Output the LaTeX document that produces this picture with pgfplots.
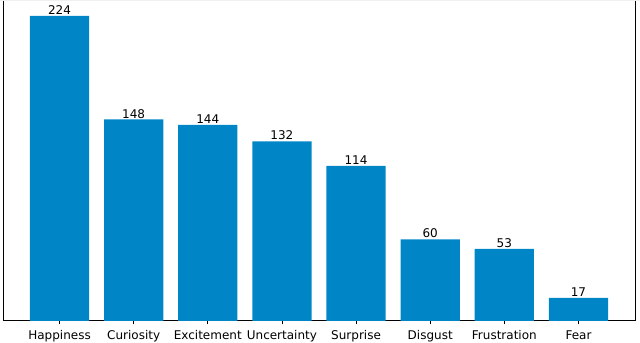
\documentclass[border=0pt]{standalone}
\usepackage{pgfplots}
\pgfplotsset{compat=1.18}
\usepackage{fontspec}
\setmainfont{DejaVu Sans}
\definecolor{barblue}{RGB}{0,134,198}
\begin{document}
\begin{tikzpicture}
\useasboundingbox (0,0) rectangle (384pt,205.8pt);
\begin{axis}[
  at={(2.4pt,13.2pt)}, anchor=south west,
  scale only axis, width=379.2pt, height=193.3pt,
  xmin=-0.749, xmax=7.776, ymin=0, ymax=236.6,
  ytick=\empty,
  xtick={0,...,7},
  xticklabels={Happiness,Curiosity,Excitement,Uncertainty,Surprise,Disgust,Frustration,Fear},
  tick align=outside, major tick length=2.1pt,
  tick style={black, line width=0.5pt},
  axis line style={line width=0.6pt},
  font=\fontsize{7.2}{8.5}\selectfont,
  /pgf/number format/assume math mode=true,
  ybar, bar width=0.8,
  nodes near coords,
  every node near coord/.append style={font=\fontsize{7.2}{8.5}\selectfont, inner sep=0.5pt, black},
]
\addplot[fill=barblue, draw=none] coordinates {(0,224) (1,148) (2,144) (3,132) (4,114) (5,60) (6,53) (7,17)};
\end{axis}
\fill[black!6] (0,205.0pt) rectangle (384pt,205.8pt);
\end{tikzpicture}
\end{document}
